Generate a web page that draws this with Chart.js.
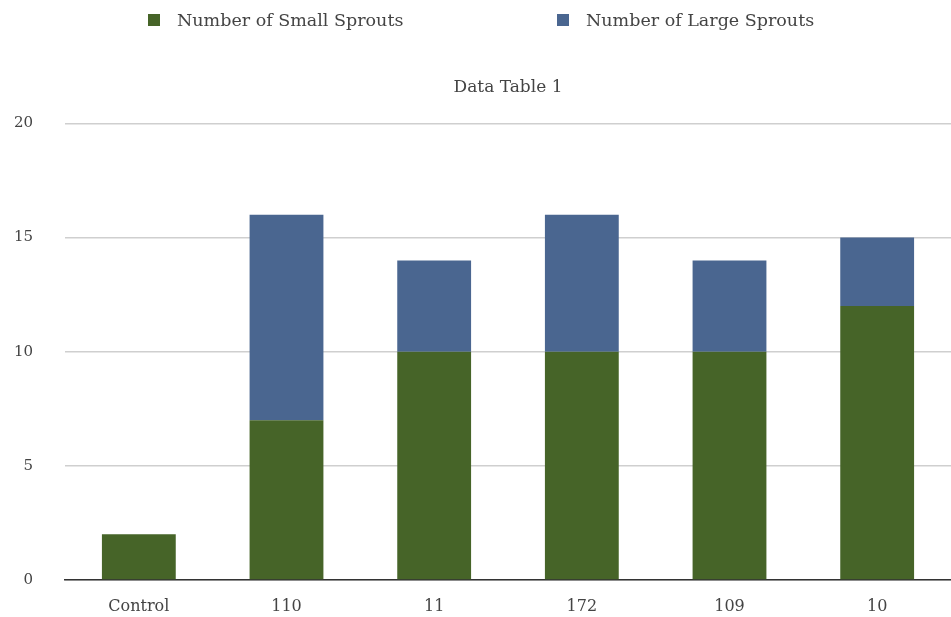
<!DOCTYPE html>
<html lang="en">
<head>
    <meta charset="UTF-8">
    <title>Data Table 1</title>
    <script src="https://cdn.jsdelivr.net/npm/chart.js"></script>
    <style>
        html, body { margin: 0; padding: 0; background: #fff; overflow: hidden; }
        .wrap { position: relative; width: 951px; height: 617px; }
        canvas { display: block; }
        #legend { position: absolute; top: 0; left: 0; width: 951px; height: 40px;
                  font-family: "DejaVu Serif", serif; font-size: 17.5px; color: #444; }
        .item { position: absolute; top: 10px; white-space: nowrap; }
        .item span.box { display: inline-block; width: 12px; height: 12px; margin-right: 17px; vertical-align: 0px; }
    </style>
</head>
<body>
    <div class="wrap">
        <canvas id="chart" width="951" height="617"></canvas>
        <div id="legend"></div>
    </div>

    <script>
        // chart data
        var categories = ['Control', '110', '11', '172', '109', '10'];
        var smallSprouts = [2, 7, 10, 10, 10, 12];
        var largeSprouts = [0, 9, 4, 6, 4, 3];
        var yTicks = [0, 5, 10, 15, 20];

        var green = '#466428';
        var blue = '#4a6690';
        var fontFamily = '"DejaVu Serif", serif';

        var chart = new Chart(document.getElementById('chart'), {
            type: 'bar',
            data: {
                labels: categories,
                datasets: [{
                    label: 'Number of Small Sprouts',
                    data: smallSprouts,
                    backgroundColor: green,
                    barPercentage: 0.5,
                    categoryPercentage: 1
                }, {
                    label: 'Number of Large Sprouts',
                    data: largeSprouts,
                    backgroundColor: blue,
                    barPercentage: 0.5,
                    categoryPercentage: 1
                }]
            },
            options: {
                responsive: false,
                animation: false,
                layout: { padding: { top: 77, left: 0, right: 0, bottom: 0 } },
                plugins: {
                    legend: { display: false },
                    tooltip: { enabled: false },
                    title: {
                        display: true,
                        fullSize: false,
                        text: 'Data Table 1',
                        color: '#444',
                        font: { family: fontFamily, size: 17, weight: 'normal' },
                        padding: { top: 0, bottom: 26 }
                    }
                },
                scales: {
                    x: {
                        stacked: true,
                        grid: { display: false, drawTicks: false },
                        border: { display: true, color: '#333', width: 1.5 },
                        ticks: { color: '#444', font: { family: fontFamily, size: 16 }, padding: 17 },
                        afterFit: function (scale) { scale.height = 37; }
                    },
                    y: {
                        stacked: true,
                        min: 0,
                        max: 20,
                        afterBuildTicks: function (scale) {
                            scale.ticks = yTicks.map(function (v) { return { value: v }; });
                        },
                        grid: { color: '#cfcfcf', lineWidth: 1.5, drawTicks: false },
                        border: { display: false },
                        ticks: { color: '#444', font: { family: fontFamily, size: 15 }, padding: 32 },
                        afterFit: function (scale) {
                            scale.width = 65;
                            // let the plot run to the bottom without label room
                            scale.paddingTop = 0;
                            scale.paddingBottom = 0;
                        }
                    }
                }
            }
        });

        // html legend, built from the datasets
        var legendPos = [{ box: 148 }, { box: 557 }];
        var legend = document.getElementById('legend');
        chart.data.datasets.forEach(function (ds, i) {
            var item = document.createElement('div');
            item.className = 'item';
            item.style.left = legendPos[i].box + 'px';
            item.innerHTML = '<span class="box" style="background:' + ds.backgroundColor + '"></span>' + ds.label;
            legend.appendChild(item);
        });
    </script>
</body>
</html>
